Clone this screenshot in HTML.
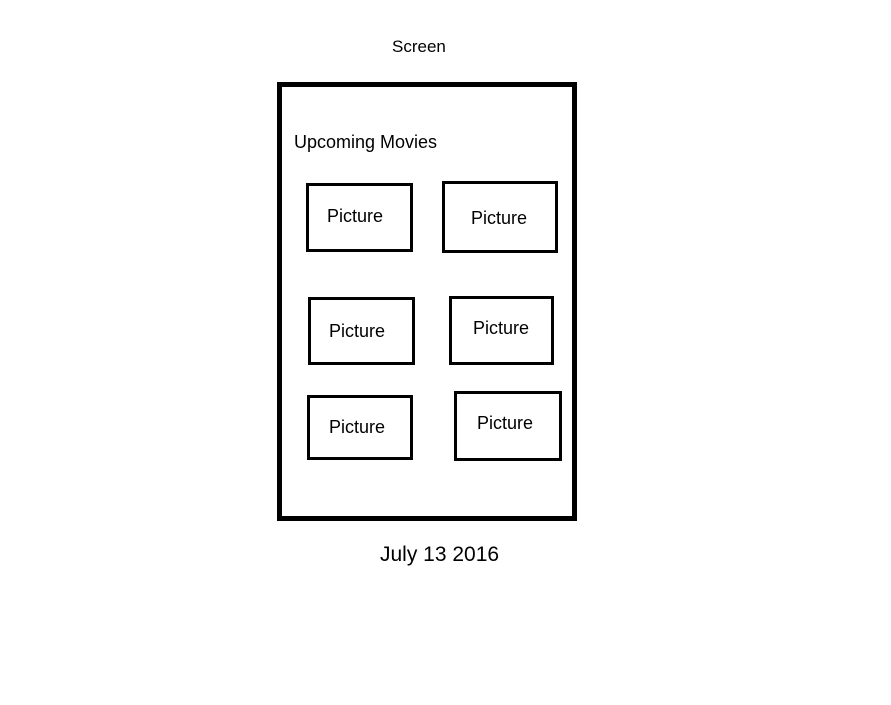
<!DOCTYPE html>
<html><head><meta charset="utf-8"><style>
body{margin:0;width:891px;height:705px;background:#fff;position:relative;font-family:"Liberation Sans",sans-serif;color:#000;overflow:hidden}
.b{position:absolute;box-sizing:border-box;border:3px solid #000}
.t{position:absolute;white-space:nowrap;font-size:18px;line-height:20px}
</style></head><body>
<div class="t" style="left:392px;top:37px;font-size:17px">Screen</div>
<div class="b" style="left:277px;top:82px;width:300px;height:439px;border-width:5px"></div>
<div class="t" style="left:294px;top:132px">Upcoming Movies</div>
<div class="b" style="left:306px;top:183px;width:107px;height:69px"></div>
<div class="t" style="left:327px;top:206px">Picture</div>
<div class="b" style="left:442px;top:181px;width:116px;height:72px"></div>
<div class="t" style="left:471px;top:208px">Picture</div>
<div class="b" style="left:308px;top:297px;width:107px;height:68px"></div>
<div class="t" style="left:329px;top:321px">Picture</div>
<div class="b" style="left:449px;top:296px;width:105px;height:69px"></div>
<div class="t" style="left:473px;top:318px">Picture</div>
<div class="b" style="left:307px;top:395px;width:106px;height:65px"></div>
<div class="t" style="left:329px;top:417px">Picture</div>
<div class="b" style="left:454px;top:391px;width:108px;height:70px"></div>
<div class="t" style="left:477px;top:413px">Picture</div>
<div class="t" style="left:380px;top:544px;font-size:21px;line-height:22px">July 13 2016</div>
</body></html>
